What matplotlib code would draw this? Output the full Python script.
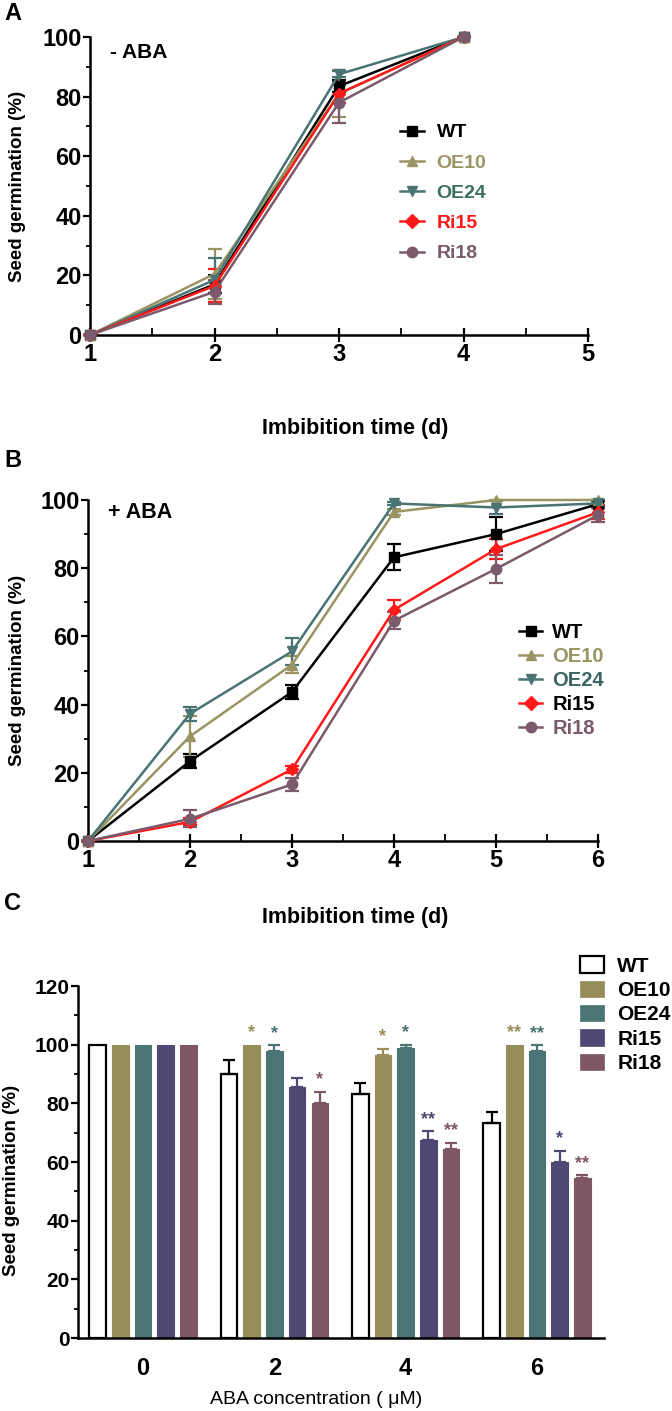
import numpy as np
import matplotlib
matplotlib.use('Agg')
import matplotlib.pyplot as plt
from matplotlib import font_manager
from matplotlib.ticker import MultipleLocator
from matplotlib.lines import Line2D
from matplotlib.patches import Patch

# 글꼴: 좁은 굵은 글꼴이 있으면 사용
names = {f.name for f in font_manager.fontManager.ttflist}
narrow = 'Liberation Sans Narrow' if 'Liberation Sans Narrow' in names else 'Liberation Sans'
plt.rcParams['font.family'] = ['Liberation Sans', 'DejaVu Sans']

# ---- 데이터 ----
lines = ['WT', 'OE10', 'OE24', 'Ri15', 'Ri18']
markers = ['s', '^', 'v', 'D', 'o']
line_colors = ['#000000', '#9a9462', '#4a7474', '#ff1a1a', '#7a5a6b']

# A: - ABA
days_a = [1, 2, 3, 4]
a_mean = {
    'WT':   [0, 17, 83.5, 100],
    'OE10': [0, 20.5, 81, 100],
    'OE24': [0, 18.5, 87.5, 100],
    'Ri15': [0, 16.5, 81, 100],
    'Ri18': [0, 14.5, 78, 100],
}
a_err = {
    'WT':   [0, 3, 2, 0],
    'OE10': [0, 8.5, 8, 0],
    'OE24': [0, 7.5, 1, 0],
    'Ri15': [0, 5.5, 3, 0],
    'Ri18': [0, 4, 7, 0],
}

# B: + ABA
days_b = [1, 2, 3, 4, 5, 6]
b_mean = {
    'WT':   [0, 23.4, 43.7, 83.2, 90.0, 98.8],
    'OE10': [0, 30.7, 51.7, 96.5, 100, 100],
    'OE24': [0, 37.3, 55.6, 99, 97.8, 99],
    'Ri15': [0, 5.6, 21, 67.8, 85.6, 96.4],
    'Ri18': [0, 6.5, 16.6, 64.6, 79.8, 95.6],
}
b_err = {
    'WT':   [0, 2, 2, 3.8, 5, 1],
    'OE10': [0, 6, 2.5, 1, 0, 0],
    'OE24': [0, 2, 4, 0.5, 2, 1],
    'Ri15': [0, 1, 1, 3, 3, 2],
    'Ri18': [0, 2.5, 2, 2.5, 4, 2],
}

# C: ABA 농도별 막대
conc = ['0', '2', '4', '6']
c_mean = {
    'WT':   [100, 89.9, 83.1, 73.2],
    'OE10': [100, 100, 96.6, 100],
    'OE24': [100, 97.8, 98.8, 97.8],
    'Ri15': [100, 85.5, 67.5, 59.9],
    'Ri18': [100, 80.0, 64.6, 54.4],
}
c_err = {
    'WT':   [0, 5, 4, 4],
    'OE10': [0, 0, 2, 0],
    'OE24': [0, 2, 1.2, 2],
    'Ri15': [0, 3, 3, 4],
    'Ri18': [0, 4, 2, 1],
}
c_stars = {
    'WT':   ['', '', '', ''],
    'OE10': ['', '*', '*', '**'],
    'OE24': ['', '*', '*', '**'],
    'Ri15': ['', '', '**', '*'],
    'Ri18': ['', '*', '**', '**'],
}
bar_colors = ['#ffffff', '#958d5a', '#4b7575', '#4d4874', '#7f5664']

W, H = 672, 1411
fig = plt.figure(figsize=(W / 100, H / 100), dpi=100)


def ax_rect(l, t, r, b):
    return [l / W, 1 - b / H, (r - l) / W, (b - t) / H]


def style_line_ax(ax, xmax):
    for s in ['top', 'right']:
        ax.spines[s].set_visible(False)
    for s in ['left', 'bottom']:
        ax.spines[s].set_linewidth(1.8)
    ax.set_ylim(0, 100)
    ax.set_xlim(1, xmax)
    ax.yaxis.set_major_locator(MultipleLocator(20))
    ax.yaxis.set_minor_locator(MultipleLocator(10))
    ax.xaxis.set_major_locator(MultipleLocator(1))
    ax.xaxis.set_minor_locator(MultipleLocator(0.5))
    ax.tick_params(axis='x', which='major', direction='inout', length=10, width=1.6)
    ax.tick_params(axis='x', which='minor', direction='in', length=5, width=1.3)
    ax.tick_params(axis='y', which='major', direction='out', length=5, width=1.6)
    ax.tick_params(axis='y', which='minor', direction='out', length=3, width=1.3)
    ax.tick_params(labelsize=17, pad=1)
    for lab in ax.get_xticklabels() + ax.get_yticklabels():
        lab.set_fontfamily(narrow)
        lab.set_fontweight('bold')


def draw_lines(ax, days, mean, err):
    for name, m, c in zip(lines, markers, line_colors):
        ax.errorbar(days, mean[name], yerr=err[name], color=c, marker=m,
                    markersize=7.5 if m != 'D' else 6.5, linewidth=1.8,
                    elinewidth=1.6, capsize=5, capthick=1.6, clip_on=False, zorder=3)


def legend_at(ax, handles, x, y, colors, size, spacing, hlen, tpad, hh=0.7):
    ax.legend(handles, lines, loc='upper left', bbox_to_anchor=(x / W, 1 - y / H),
              bbox_transform=fig.transFigure, frameon=False, borderaxespad=0,
              handlelength=hlen, handleheight=hh, handletextpad=tpad,
              labelspacing=spacing, prop={'size': size, 'weight': 'bold'},
              labelcolor=colors)


hL = [Line2D([], [], color=c, marker=m, markersize=7.5, linewidth=1.8)
      for m, c in zip(markers, line_colors)]

# ---- A ----
axA = fig.add_axes(ax_rect(90, 37, 588, 335))
draw_lines(axA, days_a, a_mean, a_err)
style_line_ax(axA, 5)
fig.text(110 / W, 1 - 52 / H, '- ABA', fontsize=15, fontweight='bold', va='center')
legend_at(axA, hL, 392, 116, ['#000000', '#9a9462', '#3d7060', '#ff1a1a', '#7a5a6b'],
          14, 0.65, 1.25, 0.65)

# ---- B ----
axB = fig.add_axes(ax_rect(88, 500, 598, 841))
draw_lines(axB, days_b, b_mean, b_err)
style_line_ax(axB, 6)
fig.text(108 / W, 1 - 512 / H, '+ ABA', fontsize=15.5, fontweight='bold', va='center')
legend_at(axB, hL, 511, 615, ['#000000', '#9a9462', '#3d6464', '#000000', '#7a5a6b'],
          14.5, 0.25, 1.15, 0.5)

# ---- C ----
axC = fig.add_axes(ax_rect(78, 986, 604, 1338))
step = 0.173
bw = 0.126
x0 = np.arange(len(conc))
for j, (name, col) in enumerate(zip(lines, bar_colors)):
    xs = x0 + (j - 2) * step
    ec = '#000000' if name == 'WT' else col
    axC.bar(xs, c_mean[name], width=bw, color=col, edgecolor=ec,
            linewidth=1.6 if name == 'WT' else 0.8, zorder=2)
    ecol = '#000000' if name == 'WT' else col
    for x, v, e, s in zip(xs, c_mean[name], c_err[name], c_stars[name]):
        if e > 0:
            axC.errorbar([x], [v], yerr=[[0], [e]], color=ecol, elinewidth=1.6,
                         capsize=4.5, capthick=1.6, fmt='none', zorder=3)
        if s:
            axC.text(x, v + e + 1.2, s, ha='center', va='bottom', color=col,
                     fontsize=13, fontweight='bold')
axC.set_xlim(-0.495, 3.51)
axC.set_ylim(0, 120)
for s in ['top', 'right']:
    axC.spines[s].set_visible(False)
for s in ['left', 'bottom']:
    axC.spines[s].set_linewidth(1.8)
axC.yaxis.set_major_locator(MultipleLocator(20))
axC.yaxis.set_minor_locator(MultipleLocator(10))
axC.set_xticks(x0)
axC.set_xticklabels(conc)
axC.tick_params(axis='x', length=0, pad=14)
axC.tick_params(axis='y', which='major', direction='out', length=5, width=1.6)
axC.tick_params(axis='y', which='minor', direction='out', length=3, width=1.3)
axC.tick_params(axis='y', labelsize=15, pad=1)
axC.tick_params(axis='x', labelsize=17)
for lab in axC.get_xticklabels() + axC.get_yticklabels():
    lab.set_fontfamily(narrow)
    lab.set_fontweight('bold')
hC = [Patch(facecolor=c, edgecolor='#000000' if i == 0 else c, linewidth=1.6 if i == 0 else 0.5)
      for i, c in enumerate(bar_colors)]
legend_at(axC, hC, 572, 948, ['#000000'] * 5, 15, 0.24, 1.15, 0.62, hh=0.82)

# ---- 축 이름, 패널 글자 ----
fig.text(18 / W, 1 - 186 / H, 'Seed germination (%)', rotation=90, ha='center', va='center',
         fontsize=13.5, fontweight='bold')
fig.text(355 / W, 1 - 428 / H, 'Imbibition time (d)', ha='center', va='center',
         fontsize=15.5, fontweight='bold')
fig.text(18 / W, 1 - 670 / H, 'Seed germination (%)', rotation=90, ha='center', va='center',
         fontsize=13.5, fontweight='bold')
fig.text(355 / W, 1 - 918 / H, 'Imbibition time (d)', ha='center', va='center',
         fontsize=15.5, fontweight='bold')
fig.text(12 / W, 1 - 1180 / H, 'Seed germination (%)', rotation=90, ha='center', va='center',
         fontsize=13.5, fontweight='bold')
fig.text(316 / W, 1 - 1400 / H, 'ABA concentration ( μM)', ha='center', va='center',
         fontsize=14)
fig.text(4 / W, 1 - 14 / H, 'A', ha='left', va='center', fontsize=17, fontweight='bold')
fig.text(4 / W, 1 - 460 / H, 'B', ha='left', va='center', fontsize=17, fontweight='bold')
fig.text(4 / W, 1 - 903 / H, 'C', ha='left', va='center', fontsize=17, fontweight='bold')

fig.savefig('out.png', dpi=100)
